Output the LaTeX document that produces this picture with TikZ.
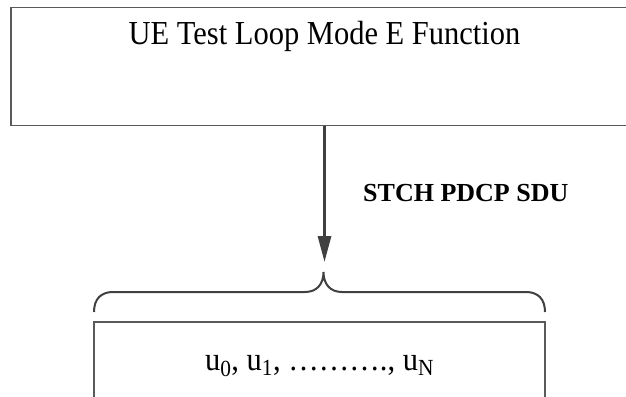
\documentclass[tikz,border=0pt]{standalone}
\usepackage{fontspec}
\setmainfont{Liberation Serif}
\usetikzlibrary{arrows.meta}
\definecolor{boxline}{RGB}{90,90,90}
\definecolor{darkline}{RGB}{64,64,64}
\tikzset{
  funcbox/.style={draw=boxline, line width=1.5pt, minimum width=627pt, minimum height=117.5pt, inner sep=0pt},
  pdubox/.style={draw=boxline, line width=1.2pt, minimum width=451pt, minimum height=100pt, inner sep=0pt},
  bigtext/.style={font=\fontsize{30.5}{36}\selectfont, inner sep=0pt},
  labeltext/.style={font=\fontsize{26}{30}\selectfont\bfseries, inner sep=0pt},
  flowarrow/.style={draw=darkline, line width=3pt, -{Triangle[length=26pt,width=13pt]}},
  bracepath/.style={draw=darkline, line width=2pt}
}
\begin{document}
\begin{tikzpicture}[x=1pt,y=-1pt]
\useasboundingbox (0,0) rectangle (626,396);
\clip (0,0) rectangle (626,396);
\fill[white] (0,0) rectangle (626,396);
\node[funcbox] (func) at (324.5,66.5) {};
\node[bigtext, anchor=base] (title) at (324.5,44.5) {\scalebox{1}[1.1]{UE Test Loop Mode E Function}};
\node[pdubox] (pdus) at (319.5,372) {};
\node[bigtext, anchor=base] (ulist) at (319.5,370) {\scalebox{1}[1.08]{u\textsubscript{0}, u\textsubscript{1}, \ldots\ldots\ldots., u\textsubscript{N}}};
\coordinate (tip) at (324.5,262);
\coordinate (btip) at (323.5,272);
\draw[flowarrow] (func.south -| tip) -- (tip);
\node[labeltext, anchor=base west] (lbl) at (363,201) {STCH PDCP SDU};
\draw[bracepath] (94,312) .. controls (94,299) and (101,292) .. (113,292)
  -- (305,292) .. controls (317,292) and (323.5,284) .. (btip)
  .. controls (323.5,284) and (330,292) .. (342,292)
  -- (526,292) .. controls (538,292) and (545,299) .. (545,312);
\end{tikzpicture}
\end{document}
